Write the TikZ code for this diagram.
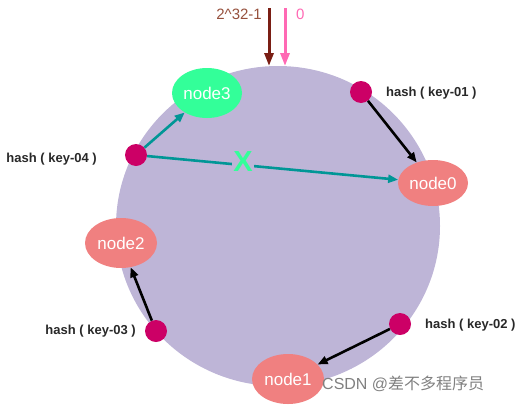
\documentclass[tikz,border=0pt]{standalone}
\usepackage{fontspec}
\setmainfont{Liberation Sans}
\newfontfamily\cjk{Noto Sans CJK SC}
\usetikzlibrary{arrows.meta,shapes.geometric}
\definecolor{ring}{RGB}{190,181,215}
\definecolor{nodered}{RGB}{240,128,128}
\definecolor{nodegreen}{RGB}{51,255,153}
\definecolor{dotc}{RGB}{204,0,102}
\definecolor{tealc}{RGB}{0,150,150}
\definecolor{darkred}{RGB}{122,30,20}
\definecolor{pinkc}{RGB}{255,105,180}
\definecolor{labc}{RGB}{40,40,40}
\definecolor{brownc}{RGB}{150,80,60}
\tikzset{
  srv/.style={ellipse, fill=nodered, minimum width=72pt, minimum height=50pt, inner sep=0pt, text=white, font=\fontsize{17}{17}\selectfont},
  keydot/.style={circle, fill=dotc, minimum size=22pt, inner sep=0pt},
  lab/.style={font=\bfseries\fontsize{13}{13}\selectfont, text=labc, inner sep=0pt},
  blk/.style={-{Triangle[length=10pt,width=8pt]}, line width=2.6pt, black},
  tl/.style={-{Triangle[length=10pt,width=8pt]}, line width=2.6pt, tealc},
}
\begin{document}
\begin{tikzpicture}[x=1pt,y=-1pt]
\useasboundingbox (0,0) rectangle (529,407);
\fill[ring] (278,226) ellipse [x radius=162, y radius=160];
% top arrows
\coordinate (t1) at (269,8);
\coordinate (t1e) at (269,66);
\coordinate (t0) at (285,8);
\coordinate (t0e) at (285,66);
\draw[-{Triangle[length=13pt,width=9pt]}, line width=3pt, darkred] (t1) -- (t1e);
\draw[-{Triangle[length=13pt,width=9pt]}, line width=3pt, pinkc] (t0) -- (t0e);
\node[anchor=east, text=brownc, font=\fontsize{15}{15}\selectfont, inner sep=0pt] (lmax) at (262,14) {2\^{}32-1};
\node[anchor=west, text=pinkc, font=\fontsize{15}{15}\selectfont, inner sep=0pt] (lzero) at (296,14) {0};
% servers
\node[srv, fill=nodegreen, minimum width=70pt, minimum height=50pt] (n3) at (207,93) {node3};
\node[srv, minimum width=70pt, minimum height=46pt] (n0) at (433,183) {node0};
\node[srv] (n2) at (121,243) {node2};
\node[srv] (n1) at (288,379) {node1};
% keys
\node[keydot] (k1) at (361,92) {};
\node[keydot] (k4) at (136,155) {};
\node[keydot] (k3) at (156,331) {};
\node[keydot] (k2) at (400,324) {};
\node[lab, anchor=west] (l1) at (386,93) {hash ( key-01 )};
\node[lab, anchor=east] (l4) at (97,159) {hash ( key-04 )};
\node[lab, anchor=east] (l3) at (136,331) {hash ( key-03 )};
\node[lab, anchor=west] (l2) at (425,325) {hash ( key-02 )};
% connectors
\draw[blk] (k1) -- (n0);
\draw[blk] (k2) -- (n1);
\draw[blk] (k3) -- (n2);
\draw[tl] (k4) -- (n3);
\draw[tl] (k4) -- (n0);
\node[text=nodegreen, font=\bfseries\fontsize{29}{29}\selectfont, inner sep=1pt, fill=ring] (x) at (243,162) {X};
% watermark
\node[anchor=west, text=gray, font=\fontsize{16}{16}\selectfont, inner sep=0pt] (wm) at (322,384) {CSDN @{\cjk 差不多程序员}};
\end{tikzpicture}
\end{document}
